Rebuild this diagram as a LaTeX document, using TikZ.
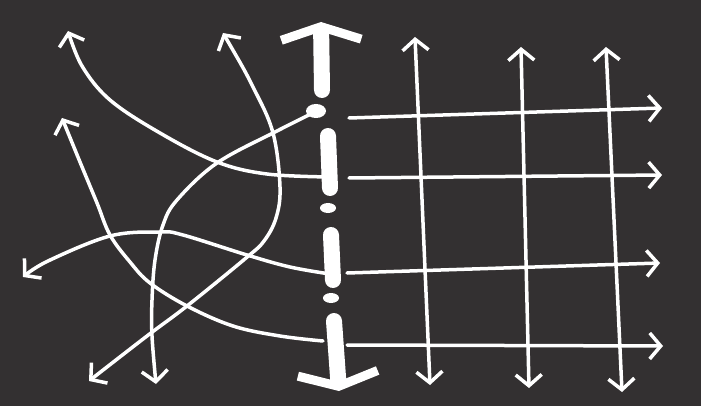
\documentclass[tikz,border=0pt]{standalone}
\usepackage{tikz}
\usetikzlibrary{arrows.meta,calc}
\definecolor{board}{RGB}{51,48,49}

\begin{document}
\begin{tikzpicture}[x=1pt,y=-1pt,
        >={Straight Barb[length=11pt,width=26pt]},
        chalk/.style={white,line width=3.5pt,line cap=round,line join=round},
        divider/.style={white,line width=16pt,line cap=round},
        bigtip/.style={-{Straight Barb[length=13pt,width=80pt,line width=9pt]}}]
        \useasboundingbox (0,0) rectangle (701,406);
        \fill[board] (0,0) rectangle (701,406);
        %Grid ends
        \coordinate (h1a) at (349,118);
        \coordinate (h1b) at (662,108);
        \coordinate (h2a) at (349,178);
        \coordinate (h2b) at (662,175);
        \coordinate (h3a) at (347,273);
        \coordinate (h3b) at (660,263);
        \coordinate (h4a) at (347,345);
        \coordinate (h4b) at (663,346);
        \coordinate (v1a) at (415,37);
        \coordinate (v1b) at (430,385);
        \coordinate (v2a) at (521,47);
        \coordinate (v2b) at (529,388);
        \coordinate (v3a) at (606,47);
        \coordinate (v3b) at (622,392);
        %Curve ends
        \coordinate (c1a) at (330,177);
        \coordinate (c1b) at (68,31);
        \coordinate (c2a) at (223,33);
        \coordinate (c2b) at (89,381);
        \coordinate (c3a) at (315,112);
        \coordinate (c3b) at (156,384);
        \coordinate (c4a) at (330,274);
        \coordinate (c4b) at (23,277);
        \coordinate (c5a) at (323,341);
        \coordinate (c5b) at (62,118);
        %Divider ends
        \coordinate (dtop) at (321,22);
        \coordinate (dbot) at (339,391);
        %Grid
        \draw[chalk,->] (h1a) -- (h1b);
        \draw[chalk,->] (h2a) -- (h2b);
        \draw[chalk,->] (h3a) -- (h3b);
        \draw[chalk,->] (h4a) -- (h4b);
        \draw[chalk,<->] (v1a) -- (v1b);
        \draw[chalk,<->] (v2a) -- (v2b);
        \draw[chalk,<->] (v3a) -- (v3b);
        %Curves
        \draw[chalk,->] plot[smooth,tension=0.6] coordinates {(c1a) (267,174) (217,162) (160,133) (110,100) (82,66) (c1b)};
        \draw[chalk,<->] plot[smooth,tension=0.6] coordinates {(c2a) (253,87) (273,133) (280,187) (276,218) (264,241) (246,258) (187,306) (147,336) (c2b)};
        \draw[chalk,->] plot[smooth,tension=0.6] coordinates {(c3a) (277,131) (217,163) (177,200) (163,225) (155,260) (152,300) (152,336) (c3b)};
        \draw[chalk,->] plot[smooth,tension=0.6] coordinates {(c4a) (290,267) (247,255) (183,235) (160,232) (110,236) (48,261) (c4b)};
        \draw[chalk,->] plot[smooth,tension=0.6] coordinates {(c5a) (280,336) (233,326) (187,306) (150,283) (130,262) (110,235) (97,203) (80,162) (c5b)};
        %Divider
        \draw[divider,bigtip] (322,90) -- (dtop);
        \fill[white] (316,111) ellipse [x radius=10pt,y radius=7pt];
        \draw[divider] (328,136) -- (330,188);
        \fill[white] (328,208) ellipse [x radius=8pt,y radius=5pt];
        \draw[divider] (331,235) -- (333,280);
        \fill[white] (331,298) ellipse [x radius=8pt,y radius=5pt];
        \draw[divider,bigtip] (334,321) -- (dbot);
\end{tikzpicture}
\end{document}
